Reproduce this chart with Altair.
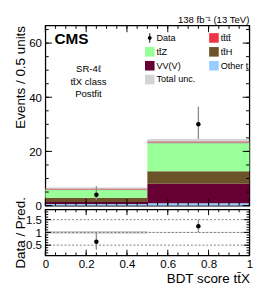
import altair as alt
import pandas as pd

# ---------------- data ----------------
bin_lo = [0.0, 0.5]
bin_hi = [0.5, 1.0]
bin_mid = [0.25, 0.75]

# stacked processes, bottom to top
proc_names = ["Other t", "VV(V)", "tt̄H", "tt̄Z", "tt̄tt̄"]
proc_bin1 = [0.6, 0.7, 1.6, 2.9, 0.4]
proc_bin2 = [0.9, 7.2, 4.6, 10.5, 0.5]
total_unc = [0.5, 0.9]

data_obs = [4, 30]
data_lo = [2.09, 24.6]
data_hi = [7.16, 36.6]

ratio_val = [0.63, 1.24]
ratio_lo = [0.32, 1.0]
ratio_hi = [1.0, 1.5]
ratio_unc = [0.055, 0.015]

legend_names = ["Data", "tt̄tt̄", "tt̄Z", "tt̄H", "VV(V)", "Other t", "Total unc."]
legend_colors = ["#000000", "#ee3344", "#99ff99", "#6b5229", "#660033", "#99ccff", "#d4d4d4"]
data_symbol = ("M-0.1,-1H0.1V1H-0.1Z"
               "M-0.4,0A0.4,0.4,0,1,1,0.4,0A0.4,0.4,0,1,1,-0.4,0Z")
legend_shapes = [data_symbol] + ["square"] * 6

main_y_ticks = [0, 20, 40, 60]
main_y_minor = [0, 5, 10, 15, 20, 25, 30, 35, 40, 45, 50, 55, 60, 65]
ratio_y_ticks = [0.5, 1.0, 1.5]
ratio_y_minor = [0.2, 0.3, 0.4, 0.5, 0.6, 0.7, 0.8, 0.9, 1.0, 1.1, 1.2, 1.3, 1.4, 1.5, 1.6, 1.7, 1.8]
x_ticks = [0, 0.2, 0.4, 0.6, 0.8, 1.0]
x_minor = [0, 0.05, 0.1, 0.15, 0.2, 0.25, 0.3, 0.35, 0.4, 0.45, 0.5,
           0.55, 0.6, 0.65, 0.7, 0.75, 0.8, 0.85, 0.9, 0.95, 1.0]

lumi_text = "138 fb⁻¹ (13 TeV)"
cms_text = "CMS"
region_text = "SR-4ℓ\ntt̄X class\nPostfit"

# ---------------- layout ----------------
W, H1, H2 = 213, 188, 48
FONT = "Liberation Sans"

xscale = alt.Scale(domain=[0, 1], nice=False, zero=False)
yscale = alt.Scale(domain=[0, 66.5], nice=False, zero=False)
rscale = alt.Scale(domain=[0.1, 1.9], nice=False, zero=False)

main_y_axis = alt.Axis(values=main_y_ticks, title="Events / 0.5 units", ticks=False, tickSize=0,
                       domain=False, grid=False, labelFontSize=12, labelPadding=4,
                       labelFlush=False, titleFontSize=14, titleX=-21.5,
                       titleBaseline="alphabetic", titleAnchor="end")
ratio_x_axis = alt.Axis(values=x_ticks, format="~g", title="BDT score tt̄X", ticks=False, tickSize=0,
                        domain=False, grid=False, labelFontSize=12, labelPadding=4,
                        labelFlush=False, labelOverlap=False, titleFontSize=14,
                        titleAnchor="end", titlePadding=2)
ratio_y_axis = alt.Axis(values=ratio_y_ticks, format="~g", title="Data / Pred.", ticks=False,
                        tickSize=0, domain=False, grid=False, labelFontSize=12, labelPadding=4,
                        labelFlush=False, titleFontSize=14, titleX=-21.5,
                        titleBaseline="alphabetic")

# ---------------- tables ----------------
rows = []
for b in range(2):
    vals = proc_bin1 if b == 0 else proc_bin2
    for i, (n, v) in enumerate(zip(proc_names, vals)):
        rows.append({"lo": bin_lo[b], "hi": bin_hi[b], "cat": n, "val": v, "ord": i})
stack_df = pd.DataFrame(rows)

tot = [sum(proc_bin1), sum(proc_bin2)]
unc_df = pd.DataFrame({"lo": bin_lo, "hi": bin_hi,
                       "ylo": [t - u for t, u in zip(tot, total_unc)],
                       "yhi": [t + u for t, u in zip(tot, total_unc)]})
obs_df = pd.DataFrame({"x": bin_mid, "y": data_obs, "lo": data_lo, "hi": data_hi})
ratio_df = pd.DataFrame({"x": bin_mid, "y": ratio_val, "lo": ratio_lo, "hi": ratio_hi})
runc_df = pd.DataFrame({"lo": bin_lo, "hi": bin_hi,
                        "ylo": [1 - u for u in ratio_unc],
                        "yhi": [1 + u for u in ratio_unc]})

color_scale = alt.Scale(domain=legend_names, range=legend_colors)
shape_scale = alt.Scale(domain=legend_names, range=legend_shapes)

legend_spec = alt.Legend(title=None, orient="none", legendX=104, legendY=8, columns=2,
                         direction="horizontal",
                         symbolSize=100, symbolStrokeWidth=0, labelFontSize=9.5, labelOffset=2,
                         rowPadding=4.5, columnPadding=14, padding=0, labelFont=FONT,
                         labelColor="black", symbolOpacity=1)


def tick_layers(ys_scale, ys_axis, xs_axis, ys_major, ys_minor, H, major, minor):
    out = []
    for vals, ln in ((x_ticks, major), (x_minor, minor)):
        base = alt.Chart(pd.DataFrame({"v": vals})).mark_rule(color="black", strokeWidth=1)
        out.append(base.encode(x=alt.X("v:Q", scale=xscale, axis=xs_axis),
                               y=alt.value(H), y2=alt.value(H - ln)))
        out.append(base.encode(x=alt.X("v:Q", scale=xscale, axis=xs_axis),
                               y=alt.value(0), y2=alt.value(ln)))
    for vals, ln in ((ys_major, major), (ys_minor, minor)):
        base = alt.Chart(pd.DataFrame({"v": vals})).mark_rule(color="black", strokeWidth=1)
        out.append(base.encode(y=alt.Y("v:Q", scale=ys_scale, axis=ys_axis),
                               x=alt.value(0), x2=alt.value(ln)))
        out.append(base.encode(y=alt.Y("v:Q", scale=ys_scale, axis=ys_axis),
                               x=alt.value(W), x2=alt.value(W - ln)))
    return out


# ---------------- main panel ----------------
bars = alt.Chart(stack_df).transform_stack(
    stack="val", groupby=["lo"], as_=["y0", "y1"], sort=[alt.SortField("ord", order="ascending")]
).mark_rect(strokeWidth=0).encode(
    x=alt.X("lo:Q", scale=xscale, axis=None),
    x2="hi:Q",
    y=alt.Y("y0:Q", scale=yscale, axis=main_y_axis),
    y2="y1:Q",
    color=alt.Color("cat:N", scale=color_scale, legend=legend_spec),
)

unc_band = alt.Chart(unc_df).mark_rect(color="#aaaaaa", opacity=0.5).encode(
    x=alt.X("lo:Q", scale=xscale, axis=None), x2="hi:Q",
    y=alt.Y("ylo:Q", scale=yscale, axis=main_y_axis), y2="yhi:Q",
)

obs_err = alt.Chart(obs_df).mark_rule(color="#8f8f8f", strokeWidth=1.4).encode(
    x=alt.X("x:Q", scale=xscale, axis=None),
    y=alt.Y("lo:Q", scale=yscale, axis=main_y_axis), y2="hi:Q",
)
obs_pts = alt.Chart(obs_df).mark_point(filled=True, size=22, color="black", opacity=1).encode(
    x=alt.X("x:Q", scale=xscale, axis=None),
    y=alt.Y("y:Q", scale=yscale, axis=main_y_axis),
)

legend_layer = alt.Chart(pd.DataFrame({"cat": legend_names})).transform_filter("false").mark_point(
    filled=True, opacity=1).encode(
    color=alt.Color("cat:N", scale=color_scale, legend=legend_spec),
    shape=alt.Shape("cat:N", scale=shape_scale, legend=legend_spec),
)

one = pd.DataFrame({"a": [0]})
cms = alt.Chart(one).mark_text(text=cms_text, align="left", baseline="middle", fontSize=16,
                               fontWeight="bold", font=FONT, color="black").encode(
    x=alt.value(9.5), y=alt.value(14))
region = alt.Chart(one).mark_text(text=region_text, lineBreak="\n", lineHeight=13, align="center",
                                  baseline="middle", fontSize=10, font=FONT, color="black").encode(
    x=alt.value(45), y=alt.value(46))

main = alt.layer(
    bars, unc_band, obs_err, obs_pts, legend_layer, cms, region,
    *tick_layers(yscale, main_y_axis, None, main_y_ticks, main_y_minor, H1, 7, 3.5),
).properties(
    width=W, height=H1,
    title=alt.TitleParams(lumi_text, anchor="end", fontSize=10, fontWeight="normal", font=FONT,
                          color="black", offset=0, frame="group"),
)

# ---------------- ratio panel ----------------
r_band = alt.Chart(runc_df).mark_rect(color="#b5b5b5", opacity=0.6).encode(
    x=alt.X("lo:Q", scale=xscale, axis=ratio_x_axis),
    x2="hi:Q",
    y=alt.Y("ylo:Q", scale=rscale, axis=ratio_y_axis),
    y2="yhi:Q",
)
r_grid = alt.Chart(pd.DataFrame({"v": ratio_y_ticks})).mark_rule(
    color="#555555", strokeWidth=0.8, strokeDash=[2, 2]).encode(
    y=alt.Y("v:Q", scale=rscale, axis=ratio_y_axis), x=alt.value(0), x2=alt.value(W))
r_err = alt.Chart(ratio_df).mark_rule(color="#8f8f8f", strokeWidth=1.4).encode(
    x=alt.X("x:Q", scale=xscale, axis=ratio_x_axis),
    y=alt.Y("lo:Q", scale=rscale, axis=ratio_y_axis), y2="hi:Q",
)
r_pts = alt.Chart(ratio_df).mark_point(filled=True, size=22, color="black", opacity=1).encode(
    x=alt.X("x:Q", scale=xscale, axis=ratio_x_axis),
    y=alt.Y("y:Q", scale=rscale, axis=ratio_y_axis),
)

ratio = alt.layer(
    r_band, r_grid, r_err, r_pts,
    *tick_layers(rscale, ratio_y_axis, ratio_x_axis, ratio_y_ticks, ratio_y_minor, H2, 6, 3),
).properties(width=W, height=H2)

chart = alt.vconcat(main, ratio, spacing=4, bounds="flush").properties(
    padding={"left": 5, "top": 0, "right": 5, "bottom": 1}
).configure(font=FONT).configure_view(stroke="black", strokeWidth=1.3).configure_axis(
    labelColor="black", titleColor="black", titleFontWeight="normal", labelFont=FONT, titleFont=FONT
)

chart.save("out.html", embed_options={"renderer": "svg", "actions": False})
